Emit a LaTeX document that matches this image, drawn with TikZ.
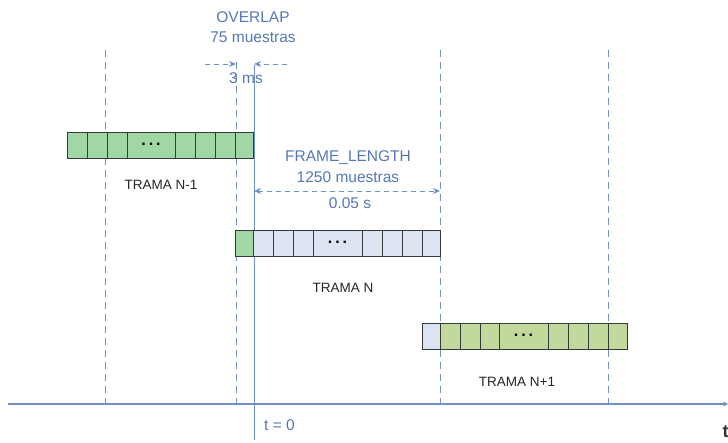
\documentclass[tikz,border=0pt]{standalone}
\usepackage{fontspec}
\setmainfont{Liberation Sans}
\usetikzlibrary{arrows.meta}
\definecolor{lineblue}{RGB}{110,145,200}
\definecolor{textblue}{RGB}{85,120,180}
\definecolor{greenA}{RGB}{160,215,165}
\definecolor{greenB}{RGB}{195,216,155}
\definecolor{cellblue}{RGB}{220,228,242}
\definecolor{cellborder}{RGB}{50,58,58}
\begin{document}
\begin{tikzpicture}[x=1pt,y=-1pt,
  cellbox/.style={draw=cellborder,line width=0.8pt},
  vdashline/.style={draw=lineblue,line width=0.8pt,dash pattern=on 7pt off 5pt},
  dimarrow/.style={draw=lineblue,line width=0.8pt,dash pattern=on 5pt off 4pt,-{Stealth[length=7pt,width=6pt]}},
  dimboth/.style={draw=lineblue,line width=0.8pt,dash pattern=on 5pt off 4pt,{Stealth[length=7pt,width=6pt]}-{Stealth[length=7pt,width=6pt]}},
  bluetext/.style={text=textblue,font=\fontsize{15.5}{17}\selectfont,inner sep=0pt},
  blacktext/.style={text=black!85,font=\fontsize{13.5}{15}\selectfont,inner sep=0pt},
  dots/.style={font=\fontsize{16}{16}\bfseries\selectfont,inner sep=0pt}]
\useasboundingbox (0,0) rectangle (728,443);

% time axis
\coordinate (axL) at (8,404);
\coordinate (axR) at (728,404);
\draw[lineblue,line width=1.4pt,-{Stealth[length=5pt,width=5pt]}] (axL) -- (axR);
\node[text=black!80,font=\fontsize{18}{18}\bfseries\selectfont,anchor=west,inner sep=0pt] (tlab) at (722.5,432) {t};

% vertical dashed lines
\foreach \xx/\yt [count=\i] in {105/50,236/62,440/50,608/50}{
  \coordinate (vt\i) at (\xx,\yt);
  \coordinate (vb\i) at (\xx,404);
  \draw[vdashline] (vt\i) -- (vb\i);
}
% t = 0 solid line
\coordinate (zt) at (254,65);
\coordinate (zb) at (254,440);
\draw[lineblue,line width=1pt] (zt) -- (zb);
\node[bluetext,anchor=west] (tzero) at (264,425) {t = 0};

% frame N-1
\foreach \a/\b in {67/87,87/107,107/127,127/175,175/195,195/215,215/235,235/253}{
  \filldraw[cellbox,fill=greenA] (\a,132) rectangle (\b,158);
}
\node[dots] (dA) at (151,144) {.\hspace{3pt}.\hspace{3pt}.};
% frame N
\filldraw[cellbox,fill=greenA] (235,230) rectangle (253,256);
\foreach \a/\b in {253/273,273/293,293/313,313/362,362/382,382/402,402/422,422/440}{
  \filldraw[cellbox,fill=cellblue] (\a,230) rectangle (\b,256);
}
\node[dots] (dB) at (337.5,242) {.\hspace{3pt}.\hspace{3pt}.};
% frame N+1
\filldraw[cellbox,fill=cellblue] (422,323) rectangle (440,349);
\foreach \a/\b in {440/460,460/480,480/499,499/548,548/568,568/588,588/608,608/627}{
  \filldraw[cellbox,fill=greenB] (\a,323) rectangle (\b,349);
}
\node[dots] (dC) at (523.5,335) {.\hspace{3pt}.\hspace{3pt}.};

% frame labels
\node[blacktext] (tA) at (161,185) {TRAMA N-1};
\node[blacktext] (tB) at (343,288) {TRAMA N};
\node[blacktext] (tC) at (517,382) {TRAMA N+1};

% overlap
\node[bluetext] (ov1) at (253,17) {OVERLAP};
\node[bluetext] (ov2) at (253,37) {75 muestras};
\coordinate (oa1) at (205,64);
\coordinate (oa2) at (236,64);
\coordinate (ob1) at (287,64);
\coordinate (ob2) at (254,64);
\draw[dimarrow] (oa1) -- (oa2);
\draw[dimarrow] (ob1) -- (ob2);
\node[bluetext] (ms) at (246,78) {3 ms};

% frame length
\node[bluetext] (fl1) at (348,158) {FRAME\_LENGTH};
\node[bluetext] (fl2) at (348,177) {1250 muestras};
\coordinate (fa) at (254,191);
\coordinate (fb) at (440,191);
\draw[dimboth] (fa) -- (fb);
\node[bluetext] (fl3) at (350,203) {0.05 s};
\end{tikzpicture}
\end{document}
